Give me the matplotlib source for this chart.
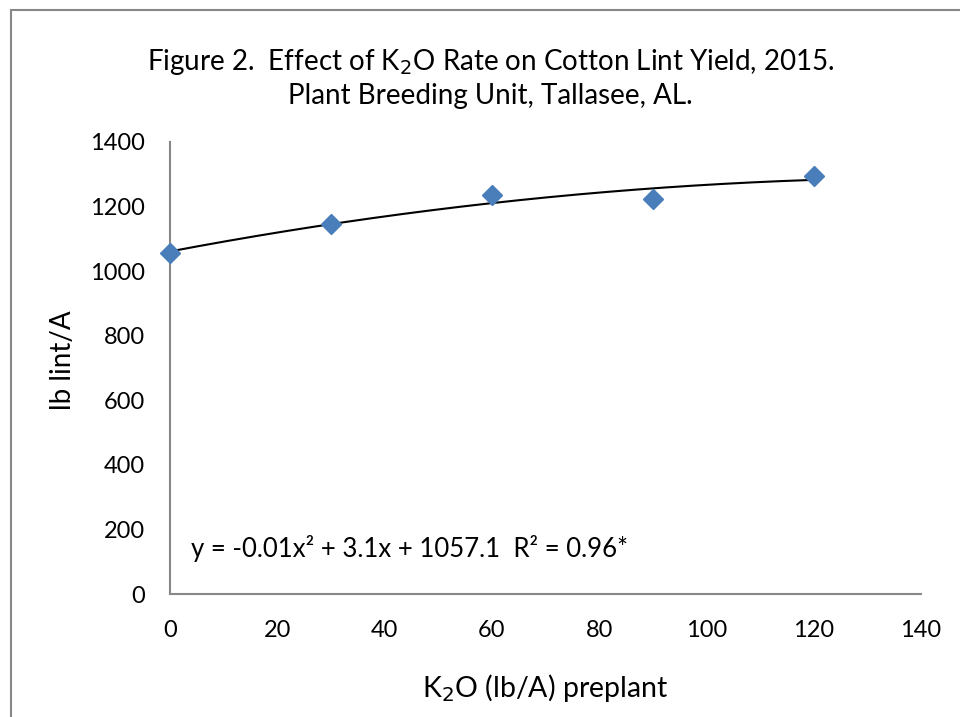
import numpy as np
import matplotlib.pyplot as plt
from matplotlib.patches import Rectangle

plt.rcParams['font.family'] = ['Lato', 'DejaVu Sans']

# K2O rate (lb/A) and lint yield (lb lint/A)
k2o_rate = [0, 30, 60, 90, 120]
lint_yield = [1057, 1145, 1236, 1223, 1295]
x_ticks = [0, 20, 40, 60, 80, 100, 120, 140]
y_ticks = [0, 200, 400, 600, 800, 1000, 1200, 1400]

fig = plt.figure(figsize=(9.6, 7.17), dpi=100)
ax = fig.add_axes([0.1771, 0.1715, 0.7823, 0.6305])

# 2nd order polynomial trendline
coef = np.polyfit(k2o_rate, lint_yield, 2)
xs = np.linspace(min(k2o_rate), max(k2o_rate), 200)
ax.plot(xs, np.polyval(coef, xs), color='black', lw=1.5, zorder=2)

ax.plot(k2o_rate, lint_yield, linestyle='none', marker='D', ms=10,
        color='#4A7EBB', markeredgecolor='#4A7EBB', zorder=3, clip_on=False)

ax.set_xlim(0, 140)
ax.set_ylim(0, 1400)
ax.set_xticks(x_ticks)
ax.set_yticks(y_ticks)
ax.tick_params(length=0, labelsize=17)
ax.tick_params(axis='x', pad=19)
ax.tick_params(axis='y', pad=18)
for s in ['top', 'right']:
    ax.spines[s].set_visible(False)
for s in ['left', 'bottom']:
    ax.spines[s].set_color('#888888')
    ax.spines[s].set_linewidth(1.5)

ax.set_ylabel('lb lint/A', fontsize=20)
ax.yaxis.set_label_coords(-0.125, 0.518)
ax.set_xlabel('K$_2$O (lb/A) preplant', fontsize=20.5, labelpad=22)

ax.text(4, 140, 'y = -0.01x² + 3.1x + 1057.1  R² = 0.96*', fontsize=18.5,
        va='center', ha='left')

fig.text(0.511, 0.891, 'Figure 2.  Effect of K$_2$O Rate on Cotton Lint Yield, 2015.\nPlant Breeding Unit, Tallasee, AL.',
         ha='center', va='center', fontsize=20, linespacing=1.3)

# chart frame
fig.patches.append(Rectangle((0.0115, -0.5), 2, 1.486, transform=fig.transFigure,
                             fill=False, edgecolor='#888888', lw=1.5))

plt.savefig('out.png', dpi=100)
